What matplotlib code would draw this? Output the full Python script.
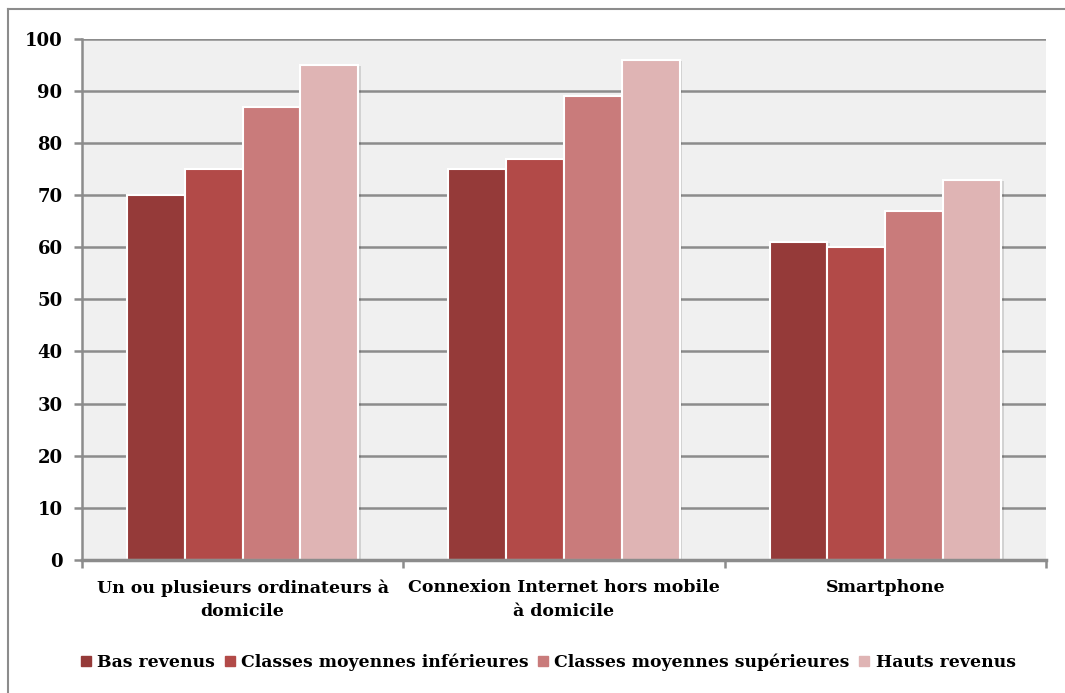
import matplotlib
matplotlib.use("Agg")
import matplotlib.pyplot as plt
import matplotlib.patheffects as pe
from matplotlib.lines import Line2D
import numpy as np

categories = ["Un ou plusieurs ordinateurs à\ndomicile",
              "Connexion Internet hors mobile\nà domicile",
              "Smartphone"]
series_names = ["Bas revenus", "Classes moyennes inférieures",
                "Classes moyennes supérieures", "Hauts revenus"]
bas_revenus = [70, 75, 61]
moyennes_inf = [75, 77, 60]
moyennes_sup = [87, 89, 67]
hauts_revenus = [95, 96, 73]
y_ticks = [0, 10, 20, 30, 40, 50, 60, 70, 80, 90, 100]

colors = ["#953a39", "#b24a48", "#c97b7b", "#dfb4b4"]
values = [bas_revenus, moyennes_inf, moyennes_sup, hauts_revenus]

plt.rcParams["font.family"] = ["DejaVu Serif"]
plt.rcParams["font.weight"] = "bold"

fig = plt.figure(figsize=(10.65, 6.93), dpi=100)
ax = fig.add_axes([0.077, 0.192, 0.905, 0.752])
ax.set_facecolor("#f0f0f0")

x = np.arange(len(categories))
bw = 0.18
offsets = (np.arange(4) - 1.5) * bw
shadow = [pe.SimplePatchShadow(offset=(2, -1), shadow_rgbFace="#000000", alpha=0.12), pe.Normal()]
for i, (vals, c) in enumerate(zip(values, colors)):
    bars = ax.bar(x + offsets[i], vals, width=bw, color=c, edgecolor="white",
                  linewidth=1.5, zorder=3, label=series_names[i])
    for b in bars:
        b.set_path_effects(shadow)

ax.set_xlim(-0.5, 2.5)
ax.set_ylim(0, 100)
ax.set_yticks(y_ticks)
ax.set_yticklabels([str(t) for t in y_ticks], fontsize=13, fontweight="bold")
ax.yaxis.grid(True, color="#8c8c8c", linewidth=1.8, zorder=1)
ax.set_axisbelow(True)

# category separators on x axis
ax.set_xticks([-0.5, 0.5, 1.5, 2.5])
ax.set_xticklabels([])
ax.set_xticks(x, minor=True)
ax.set_xticklabels(categories, minor=True, fontsize=12.5, fontweight="bold",
                   linespacing=1.5)
ax.tick_params(axis="x", which="minor", length=0, pad=14)
ax.tick_params(axis="x", which="major", length=6, width=1.8, color="#8c8c8c")
ax.tick_params(axis="y", length=6, width=1.8, color="#8c8c8c", pad=8)

for side in ["top", "right"]:
    ax.spines[side].set_visible(False)
ax.spines["left"].set_color("#8c8c8c")
ax.spines["left"].set_linewidth(1.8)
ax.spines["bottom"].set_color("#8c8c8c")
ax.spines["bottom"].set_linewidth(2.5)
ax.spines["bottom"].set_zorder(4)

handles = [Line2D([], [], marker="s", linestyle="none", markersize=7.5,
                  markerfacecolor=c, markeredgecolor=c) for c in colors]
fig.legend(handles, series_names, loc="center", bbox_to_anchor=(0.514, 0.045),
           ncol=4, frameon=False, handletextpad=0.25,
           columnspacing=0.45, handlelength=0.8,
           prop={"weight": "bold", "size": 12.4})

# outer chart frame (top and left edges)
fig.add_artist(Line2D([0.0075, 1.0], [0.987, 0.987], transform=fig.transFigure,
                      color="#8c8c8c", linewidth=1.5))
fig.add_artist(Line2D([0.0075, 0.0075], [0.0, 0.987], transform=fig.transFigure,
                      color="#8c8c8c", linewidth=1.5))

fig.savefig("out.png", dpi=100, facecolor="white")
